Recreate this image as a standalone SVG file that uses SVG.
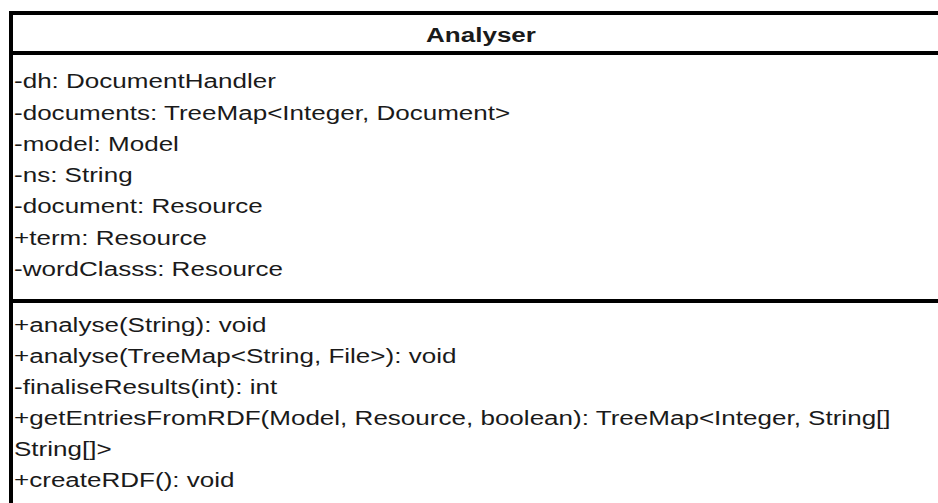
<svg xmlns="http://www.w3.org/2000/svg" width="938" height="503" viewBox="0 0 938 503">
<style>
.box{fill:#fff;stroke:#000;stroke-width:4}
.div{stroke:#000;stroke-width:4}
text{font-family:"Liberation Sans",Arial,sans-serif;font-size:21px;fill:#1a1a1a}
.title{font-weight:bold;text-anchor:middle}
</style>
<rect width="938" height="503" fill="#fff"/>
<g id="Analyser">
<rect class="box" x="11" y="13" width="940" height="492"/>
<line class="div" x1="11" y1="53" x2="951" y2="53"/>
<line class="div" x1="11" y1="301" x2="951" y2="301"/>
<g transform="scale(1.24 1)">
<text class="title" x="387.9" y="42">Analyser</text>
<text x="11.3" y="88">-dh: DocumentHandler</text>
<text x="11.3" y="120">-documents: TreeMap&lt;Integer, Document&gt;</text>
<text x="11.3" y="151">-model: Model</text>
<text x="11.3" y="182">-ns: String</text>
<text x="11.3" y="213">-document: Resource</text>
<text x="11.3" y="245">+term: Resource</text>
<text x="11.3" y="276">-wordClasss: Resource</text>
<text x="11.3" y="332">+analyse(String): void</text>
<text x="11.3" y="363">+analyse(TreeMap&lt;String, File&gt;): void</text>
<text x="11.3" y="394">-finaliseResults(int): int</text>
<text x="11.3" y="425">+getEntriesFromRDF(Model, Resource, boolean): TreeMap&lt;Integer, String[]</text>
<text x="11.3" y="456">String[]&gt;</text>
<text x="11.3" y="487">+createRDF(): void</text>
</g>
</g>
<g id="connectors"/>
</svg>
